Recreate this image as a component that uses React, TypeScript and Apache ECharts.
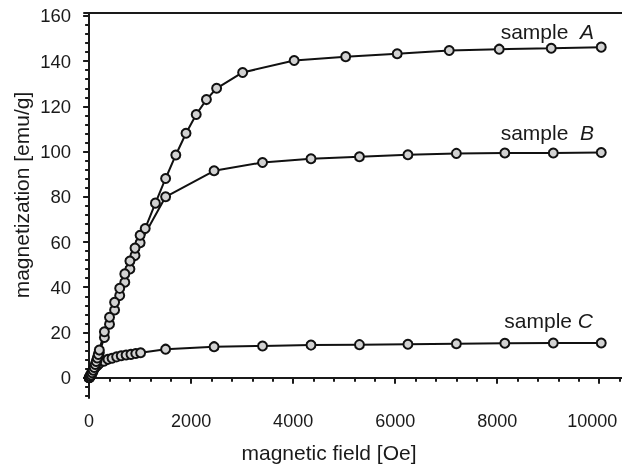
import React, { useEffect, useRef } from "react";
import * as echarts from "echarts";

// magnetic field [Oe] and magnetization [emu/g]
const fieldA = [0, 20, 40, 60, 80, 100, 120, 140, 160, 180, 200, 300, 400, 500, 600, 700, 800, 900, 1000, 1100, 1300, 1500, 1700, 1900, 2100, 2300, 2500, 3010, 4020, 5030, 6040, 7060, 8040, 9060, 10040];
const magA = [0, 0.5, 1.2, 2.2, 3.3, 4.5, 5.8, 7.2, 8.7, 10.3, 12.2, 20.3, 26.7, 33.3, 39.5, 45.9, 51.6, 57.3, 63.0, 66.0, 77.2, 88.1, 98.5, 108.1, 116.4, 123.0, 128.0, 135.0, 140.3, 142.0, 143.3, 144.7, 145.3, 145.7, 146.2];

const fieldB = [0, 20, 40, 60, 80, 100, 120, 140, 160, 180, 200, 300, 400, 500, 600, 700, 800, 900, 1000, 1500, 2450, 3400, 4350, 5300, 6250, 7200, 8150, 9100, 10040];
const magB = [0, 0.4, 1.0, 1.9, 2.9, 4.0, 5.2, 6.5, 7.9, 9.4, 11.0, 17.8, 23.6, 29.9, 36.3, 42.2, 48.1, 54.0, 59.7, 80.0, 91.5, 95.2, 96.8, 97.7, 98.6, 99.2, 99.4, 99.4, 99.6];

const fieldC = [0, 25, 50, 75, 100, 125, 150, 175, 200, 290, 370, 450, 540, 630, 725, 820, 915, 1010, 1500, 2450, 3400, 4350, 5300, 6250, 7200, 8150, 9100, 10040];
const magC = [0, 1.2, 2.3, 3.2, 4.0, 4.7, 5.3, 5.8, 6.3, 7.3, 8.1, 8.6, 9.2, 9.7, 10.0, 10.3, 10.7, 11.0, 12.6, 13.7, 14.0, 14.4, 14.6, 14.8, 15.0, 15.2, 15.3, 15.3];

const sampleNames = ["A", "B", "C"];

const xMajorTicks = [0, 2000, 4000, 6000, 8000, 10000];
const xMinorTicks = [400, 800, 1200, 1600, 2400, 2800, 3200, 3600, 4400, 4800, 5200, 5600, 6400, 6800, 7200, 7600, 8400, 8800, 9200, 9600, 10400];
const yMajorTicks = [0, 20, 40, 60, 80, 100, 120, 140, 160];
const yMinorTicks = [-8, -4, 4, 8, 12, 16, 24, 28, 32, 36, 44, 48, 52, 56, 64, 68, 72, 76, 84, 88, 92, 96, 104, 108, 112, 116, 124, 128, 132, 136, 144, 148, 152, 156];

const xTitle = "magnetic field [Oe]";
const yTitle = "magnetization [emu/g]";

const X_MIN = -100;
const X_MAX = 10800;
const Y_MIN = -9;
const Y_MAX = 161.3;

const FONT = "'Liberation Sans', Arial, Helvetica, sans-serif";
const INK = "#1a1a1a";

function pairs(xs: number[], ys: number[]) {
  return xs.map((x, i) => [x, ys[i]]);
}

export default function App() {
  const ref = useRef<HTMLDivElement>(null);
  useEffect(() => {
    if (!ref.current) return;
    const chart = echarts.init(ref.current, undefined, { renderer: "svg" });
    const axisLine = { show: true, lineStyle: { color: INK, width: 2 } };
    const mkSeries = (data: number[][], name: string) => ({
      name,
      type: "line",
      data,
      xAxisIndex: 0,
      yAxisIndex: 0,
      symbol: "circle",
      symbolSize: 9,
      showAllSymbol: true,
      lineStyle: { color: "#111", width: 2 },
      itemStyle: { color: "#d2d2d2", borderColor: "#111", borderWidth: 2 },
      z: 3,
    });
    const labelText = (name: string, sep: string) => `sample${sep}{i|${name}}`;
    const lastX = xMajorTicks[xMajorTicks.length - 1];
    chart.setOption({
      animation: false,
      grid: { left: 84, top: 13, right: -18, bottom: 72, containLabel: false, outerBoundsMode: "none" },
      xAxis: [
        {
          type: "value",
          position: "bottom",
          min: X_MIN,
          max: X_MAX,
          axisLine,
          splitLine: { show: false },
          axisTick: { show: true, inside: false, length: 6, customValues: xMajorTicks, lineStyle: { color: INK, width: 2 } },
          axisLabel: {
            show: true,
            customValues: xMajorTicks,
            margin: 14,
            fontSize: 18,
            fontFamily: FONT,
            color: INK,
            formatter: (v: number) => (v === lastX ? `{r|${v}}` : String(v)),
            rich: { r: { fontSize: 18, fontFamily: FONT, color: INK, padding: [0, 14, 0, 0] } },
          },
        },
        {
          type: "value",
          position: "bottom",
          min: X_MIN,
          max: X_MAX,
          axisLine: { show: false },
          splitLine: { show: false },
          axisTick: { show: true, inside: false, length: 4, customValues: xMinorTicks, lineStyle: { color: INK, width: 2 } },
          axisLabel: { show: false },
        },
        {
          type: "value",
          position: "top",
          min: X_MIN,
          max: X_MAX,
          axisLine,
          splitLine: { show: false },
          axisTick: { show: false },
          axisLabel: { show: false },
        },
      ],
      yAxis: [
        {
          type: "value",
          position: "left",
          min: Y_MIN,
          max: Y_MAX,
          axisLine,
          splitLine: { show: false },
          axisTick: { show: true, inside: false, length: 6, customValues: yMajorTicks, lineStyle: { color: INK, width: 2 } },
          axisLabel: { show: true, customValues: yMajorTicks, margin: 13, fontSize: 18.5, fontFamily: FONT, color: INK, formatter: (v: number) => String(v) },
        },
        {
          type: "value",
          position: "left",
          min: Y_MIN,
          max: Y_MAX,
          axisLine: { show: false },
          splitLine: { show: false },
          axisTick: { show: true, inside: false, length: 4, customValues: yMinorTicks, lineStyle: { color: INK, width: 2 } },
          axisLabel: { show: false },
        },
      ],
      series: [
        mkSeries(pairs(fieldC, magC), sampleNames[2]),
        mkSeries(pairs(fieldB, magB), sampleNames[1]),
        mkSeries(pairs(fieldA, magA), sampleNames[0]),
      ],
      graphic: [
        {
          type: "text",
          x: 594,
          y: 31,
          style: {
            text: labelText(sampleNames[0], "  "),
            fontSize: 21,
            fontFamily: FONT,
            fill: INK,
            align: "right",
            verticalAlign: "middle",
            rich: { i: { fontStyle: "italic", fontSize: 21, fontFamily: FONT, fill: INK } },
          },
        },
        {
          type: "text",
          x: 594,
          y: 132,
          style: {
            text: labelText(sampleNames[1], "  "),
            fontSize: 21,
            fontFamily: FONT,
            fill: INK,
            align: "right",
            verticalAlign: "middle",
            rich: { i: { fontStyle: "italic", fontSize: 21, fontFamily: FONT, fill: INK } },
          },
        },
        {
          type: "text",
          x: 593,
          y: 320,
          style: {
            text: labelText(sampleNames[2], " "),
            fontSize: 21,
            fontFamily: FONT,
            fill: INK,
            align: "right",
            verticalAlign: "middle",
            rich: { i: { fontStyle: "italic", fontSize: 21, fontFamily: FONT, fill: INK } },
          },
        },
        {
          type: "text",
          x: 329,
          y: 452,
          style: { text: xTitle, fontSize: 21, fontFamily: FONT, fill: INK, align: "center", verticalAlign: "middle" },
        },
        {
          type: "text",
          x: 21,
          y: 195,
          rotation: Math.PI / 2,
          style: { text: yTitle, fontSize: 21, fontFamily: FONT, fill: INK, align: "center", verticalAlign: "middle" },
        },
      ],
    });
    return () => chart.dispose();
  }, []);
  return <div ref={ref} style={{ position: "fixed", left: 0, top: 0, width: 622, height: 470 }} />;
}
